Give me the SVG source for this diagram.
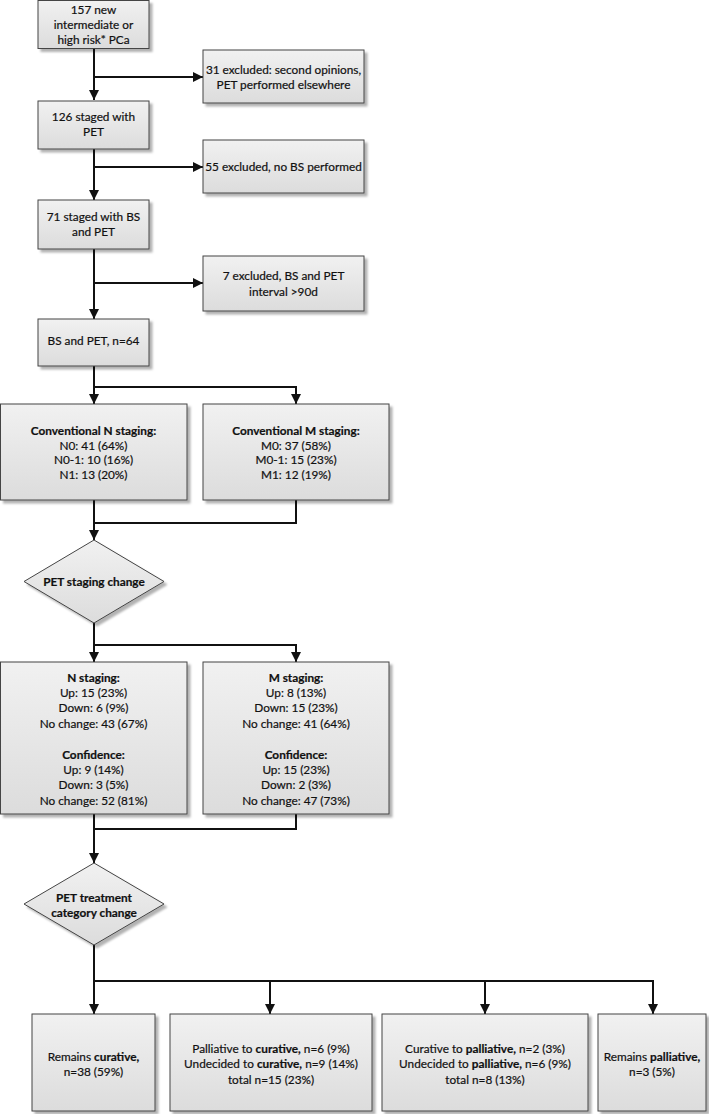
<svg xmlns="http://www.w3.org/2000/svg" width="709" height="1114" viewBox="0 0 709 1114">
<defs>
<linearGradient id="g" x1="0" y1="0" x2="0" y2="1">
<stop offset="0" stop-color="#f1f1f1"/>
<stop offset="1" stop-color="#dcdcdc"/>
</linearGradient>
<filter id="sh" x="-10%" y="-10%" width="130%" height="130%">
<feDropShadow dx="3" dy="3" stdDeviation="1.2" flood-color="#000" flood-opacity="0.3"/>
</filter>
<marker id="ah" viewBox="0 0 10 10" refX="10" refY="5" markerWidth="10" markerHeight="10" markerUnits="userSpaceOnUse" orient="auto">
<path d="M0,0 L10,5 L0,10 z" fill="#111"/>
</marker>
</defs>
<style>
.bx{fill:url(#g);stroke:#444;stroke-width:1;filter:url(#sh)}
.t{font-family:Lato,"Liberation Sans",sans-serif;font-size:11.8px;fill:#111;stroke:#111;stroke-width:0.2;text-anchor:middle}
.b{font-weight:bold}
.c{fill:none;stroke:#111;stroke-width:2}
.a{marker-end:url(#ah)}
</style>
<rect width="709" height="1114" fill="#fff"/>

<g id="connectors">
<path class="c a" d="M94,48 V100"/>
<path class="c a" d="M94,77 H203"/>
<path class="c a" d="M94,149 V200"/>
<path class="c a" d="M94,167 H203"/>
<path class="c a" d="M94,249 V319"/>
<path class="c a" d="M94,283 H203"/>
<path class="c a" d="M94,366 V404"/>
<path class="c a" d="M94,387 H296 V404"/>
<path class="c a" d="M94,500 V540"/>
<path class="c" d="M296,500 V523 H94"/>
<path class="c a" d="M94,623 V662"/>
<path class="c a" d="M94,645 H296 V662"/>
<path class="c a" d="M94,814 V863"/>
<path class="c" d="M296,814 V829 H94"/>
<path class="c a" d="M94,945 V1014"/>
<path class="c a" d="M94,981 H653 V1014"/>
<path class="c a" d="M270,981 V1014"/>
<path class="c a" d="M485,981 V1014"/>
</g>

<g id="n157">
<rect class="bx" x="38" y="0.5" width="111" height="48"/>
<text class="t"><tspan x="93.5" y="13.5">157 new</tspan><tspan x="93.5" y="28.5">intermediate or</tspan><tspan x="93.5" y="43.5">high risk* PCa</tspan></text>
</g>
<g id="ex31">
<rect class="bx" x="203" y="50" width="161" height="53"/>
<text class="t"><tspan x="283.5" y="74">31 excluded: second opinions,</tspan><tspan x="283.5" y="88.5">PET performed elsewhere</tspan></text>
</g>
<g id="n126">
<rect class="bx" x="38" y="101" width="111" height="48"/>
<text class="t"><tspan x="93.5" y="121">126 staged with</tspan><tspan x="93.5" y="136">PET</tspan></text>
</g>
<g id="ex55">
<rect class="bx" x="203" y="140" width="161" height="53"/>
<text class="t" x="283.5" y="171">55 excluded, no BS performed</text>
</g>
<g id="n71">
<rect class="bx" x="38" y="200" width="111" height="49"/>
<text class="t"><tspan x="93.5" y="221">71 staged with BS</tspan><tspan x="93.5" y="236">and PET</tspan></text>
</g>
<g id="ex7">
<rect class="bx" x="203" y="256" width="161" height="55"/>
<text class="t"><tspan x="283.5" y="280">7 excluded, BS and PET</tspan><tspan x="283.5" y="295.5">interval &gt;90d</tspan></text>
</g>
<g id="n64">
<rect class="bx" x="38" y="319" width="111" height="47"/>
<text class="t" x="93.5" y="345">BS and PET, n=64</text>
</g>
<g id="convN">
<rect class="bx" x="0.5" y="404" width="186.5" height="96"/>
<text class="t"><tspan class="b" x="93.5" y="435">Conventional N staging:</tspan><tspan x="93.5" y="449.5">N0: 41 (64%)</tspan><tspan x="93.5" y="464">N0-1: 10 (16%)</tspan><tspan x="93.5" y="478.5">N1: 13 (20%)</tspan></text>
</g>
<g id="convM">
<rect class="bx" x="203" y="404" width="186" height="96"/>
<text class="t"><tspan class="b" x="296" y="435">Conventional M staging:</tspan><tspan x="296" y="449.5">M0: 37 (58%)</tspan><tspan x="296" y="464">M0-1: 15 (23%)</tspan><tspan x="296" y="478.5">M1: 12 (19%)</tspan></text>
</g>
<g id="petStaging">
<polygon class="bx" points="94,540 164,581.5 94,623 24,581.5"/>
<text class="t b" x="94" y="586">PET staging change</text>
</g>
<g id="nStaging">
<rect class="bx" x="0.5" y="662" width="186.5" height="152"/>
<text class="t"><tspan class="b" x="93.5" y="681.5">N staging:</tspan><tspan x="93.5" y="697">Up: 15 (23%)</tspan><tspan x="93.5" y="712.3">Down: 6 (9%)</tspan><tspan x="93.5" y="727.7">No change: 43 (67%)</tspan><tspan class="b" x="93.5" y="758.5">Confidence:</tspan><tspan x="93.5" y="773.9">Up: 9 (14%)</tspan><tspan x="93.5" y="789.3">Down: 3 (5%)</tspan><tspan x="93.5" y="804.7">No change: 52 (81%)</tspan></text>
</g>
<g id="mStaging">
<rect class="bx" x="203" y="662" width="186" height="152"/>
<text class="t"><tspan class="b" x="296" y="681.5">M staging:</tspan><tspan x="296" y="697">Up: 8 (13%)</tspan><tspan x="296" y="712.3">Down: 15 (23%)</tspan><tspan x="296" y="727.7">No change: 41 (64%)</tspan><tspan class="b" x="296" y="758.5">Confidence:</tspan><tspan x="296" y="773.9">Up: 15 (23%)</tspan><tspan x="296" y="789.3">Down: 2 (3%)</tspan><tspan x="296" y="804.7">No change: 47 (73%)</tspan></text>
</g>
<g id="petTreatment">
<polygon class="bx" points="94,863 164,904 94,945 24,904"/>
<text class="t b"><tspan x="94" y="902">PET treatment</tspan><tspan x="94" y="917">category change</tspan></text>
</g>
<g id="remCur">
<rect class="bx" x="32" y="1014" width="123" height="97"/>
<text class="t"><tspan x="93.5" y="1061">Remains <tspan class="b">curative,</tspan></tspan><tspan x="93.5" y="1076">n=38 (59%)</tspan></text>
</g>
<g id="toCur">
<rect class="bx" x="170" y="1014" width="202" height="97"/>
<text class="t"><tspan x="271" y="1052.5">Palliative to <tspan class="b">curative,</tspan> n=6 (9%)</tspan><tspan x="271" y="1068">Undecided to <tspan class="b">curative,</tspan> n=9 (14%)</tspan><tspan x="271" y="1083.5">total n=15 (23%)</tspan></text>
</g>
<g id="toPal">
<rect class="bx" x="382" y="1014" width="206" height="97"/>
<text class="t"><tspan x="485" y="1052.5">Curative to <tspan class="b">palliative,</tspan> n=2 (3%)</tspan><tspan x="485" y="1068">Undecided to <tspan class="b">palliative,</tspan> n=6 (9%)</tspan><tspan x="485" y="1083.5">total n=8 (13%)</tspan></text>
</g>
<g id="remPal">
<rect class="bx" x="598" y="1014" width="108" height="97"/>
<text class="t"><tspan x="652" y="1061">Remains <tspan class="b">palliative,</tspan></tspan><tspan x="652" y="1076">n=3 (5%)</tspan></text>
</g>
</svg>
